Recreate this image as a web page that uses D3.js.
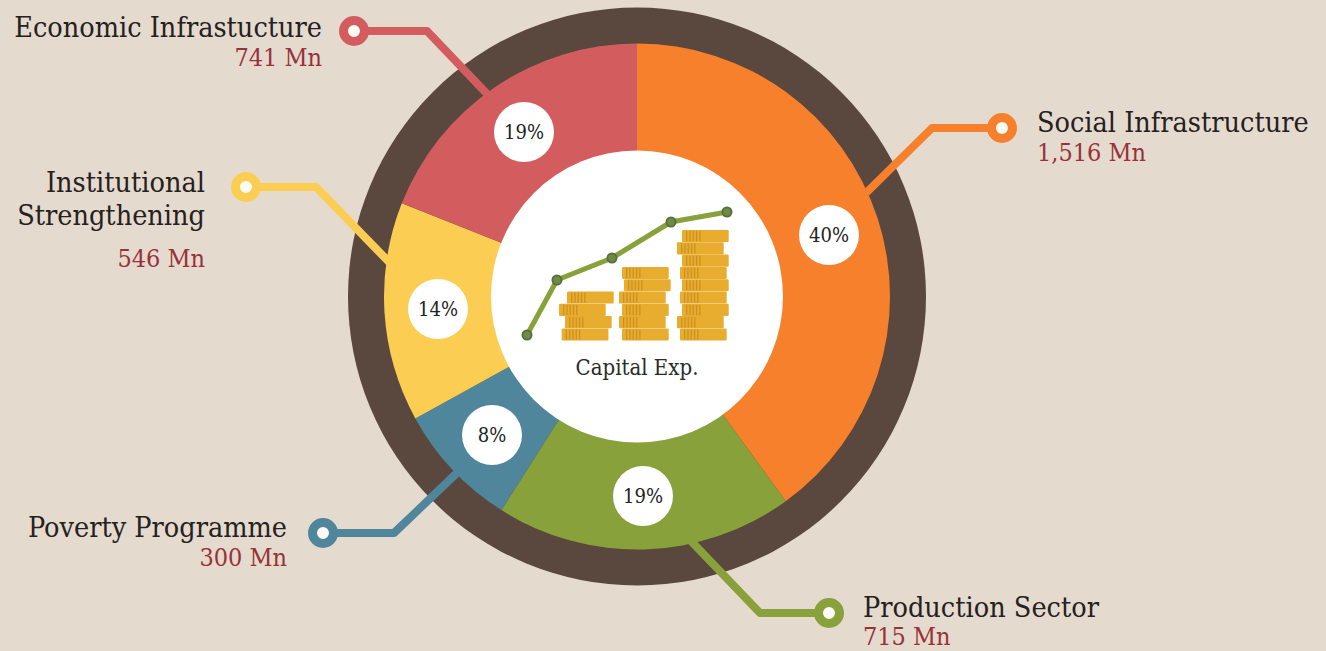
<!DOCTYPE html>
<html><head><meta charset="utf-8">
<script src="https://cdnjs.cloudflare.com/ajax/libs/d3/7.8.5/d3.min.js"></script>
<style>
html,body{margin:0;padding:0;background:#e5dace;overflow:hidden}
svg{display:block}
text{font-family:"DejaVu Serif Condensed","DejaVu Serif",serif}
</style></head><body>
<svg id="c" width="1326" height="651"></svg>
<script>
// ---- data ----
const categories = ["Social Infrastructure","Production Sector","Poverty Programme","Institutional Strengthening","Economic Infrastucture"];
const amounts = ["1,516 Mn","715 Mn","300 Mn","546 Mn","741 Mn"];
const percents = [40,19,8,14,19];
const colors = ["#f6802c","#89a13a","#4f869b","#fbce53","#d35d5e"];
const centerLabel = "Capital Exp.";
// central pictogram: trend line and coin stacks
const trendX = [0,30,85,144,200];
const trendY = [0,55,77,113,123];
const stack1 = [2.7,6,0,8];
const stack2 = [3,0,3,0,5,3];
const stack3 = [3,0,5,3,5,3,5,0,5];

// ---- layout ----
const W=1326,H=651,cx=637,cy=296.5;
const svg=d3.select("#c");
svg.append("rect").attr("width",W).attr("height",H).attr("fill","#e5dace");

const callouts=[
 {dot:[1002,128],knee:[932,128],end:[866,193],lx:1037,ly:132,anchor:"start",vy:161,bx:829,by:235},
 {dot:[829,613],knee:[760,613],end:[690,540],lx:863,ly:617,anchor:"start",vy:645,bx:643,by:496},
 {dot:[323,533],knee:[394,533],end:[460,470],lx:287,ly:537,anchor:"end",vy:566,bx:492,by:435},
 {dot:[246,187],knee:[316,187],end:[390,263],lx:205,ly:192,anchor:"end",vy:267,bx:438,by:309},
 {dot:[354,31],knee:[427,31],end:[490,97],lx:322,ly:37,anchor:"end",vy:66,bx:524,by:132}
];

svg.append("circle").attr("cx",cx).attr("cy",cy).attr("r",289).attr("fill","#5a483e");

const g=svg.append("g").attr("transform",`translate(${cx},${cy})`);
const pie=d3.pie().sort(null).value(d=>d)(percents);
const arc=d3.arc().innerRadius(0).outerRadius(253);
g.selectAll("path.s").data(pie).join("path").attr("class","s").attr("d",arc).attr("fill",(d,i)=>colors[i]);
g.append("circle").attr("r",146).attr("fill","#fff");

// leaders, badges and labels
const line=d3.line();
callouts.forEach((c,i)=>{
  svg.append("path").attr("d",line([c.dot,c.knee,c.end])).attr("fill","none")
     .attr("stroke",colors[i]).attr("stroke-width",8).attr("stroke-linejoin","round");
  svg.append("circle").attr("cx",c.dot[0]).attr("cy",c.dot[1]).attr("r",10.5)
     .attr("fill","#fdfbf5").attr("stroke",colors[i]).attr("stroke-width",9);
  svg.append("circle").attr("cx",c.bx).attr("cy",c.by).attr("r",30).attr("fill","#fff");
  svg.append("text").attr("x",c.bx).attr("y",c.by+7).attr("text-anchor","middle")
     .attr("font-size",20).attr("fill","#222").text(percents[i]+"%");
  const names = categories[i]==="Institutional Strengthening"?["Institutional","Strengthening"]:[categories[i]];
  names.forEach((n,k)=>{
    svg.append("text").attr("x",c.lx).attr("y",c.ly+k*33).attr("text-anchor",c.anchor)
       .attr("font-size",28.5).attr("fill","#25211e").text(n);
  });
  svg.append("text").attr("x",c.lx).attr("y",c.vy).attr("text-anchor",c.anchor)
     .attr("font-size",25).attr("fill","#98323a").text(amounts[i]);
});

// coins
const coinW=46.7,coinH=12.3,coinBottom=340.7;
const stacks=[{d:stack1,x:559},{d:stack2,x:619},{d:stack3,x:677}];
const yLayer=d3.scaleLinear().domain([0,1]).range([coinBottom-coinH,coinBottom-2*coinH]);
stacks.forEach(s=>{
  const sg=svg.append("g");
  sg.selectAll("rect.c").data(s.d).join("rect").attr("class","c")
    .attr("x",d=>s.x+d).attr("y",(d,i)=>yLayer(i)).attr("width",coinW).attr("height",coinH-.2).attr("rx",1.2).attr("fill","#e8ad2e");
  s.d.forEach((o,i)=>{
    [4,7.3,10.6,13.9,17.2].forEach(dx=>sg.append("rect").attr("x",s.x+o+dx).attr("y",yLayer(i)+1).attr("width",1.3).attr("height",coinH-2).attr("fill","#cb9120"));
  });
});

// trend
const xT=d3.scaleLinear().domain([0,200]).range([527,727]);
const yT=d3.scaleLinear().domain([0,123]).range([335,212]);
const pts=trendX.map((x,i)=>[xT(x),yT(trendY[i])]);
svg.append("path").attr("d",d3.line()(pts)).attr("fill","none").attr("stroke","#89a13a").attr("stroke-width",5);
svg.selectAll("circle.t").data(pts).join("circle").attr("class","t").attr("cx",d=>d[0]).attr("cy",d=>d[1]).attr("r",4.6)
   .attr("fill","#6f8a45").attr("stroke","#566d3c").attr("stroke-width",1.8);
svg.append("text").attr("x",637).attr("y",375).attr("text-anchor","middle").attr("font-size",22).attr("fill","#2b2b2b").text(centerLabel);
</script></body></html>
